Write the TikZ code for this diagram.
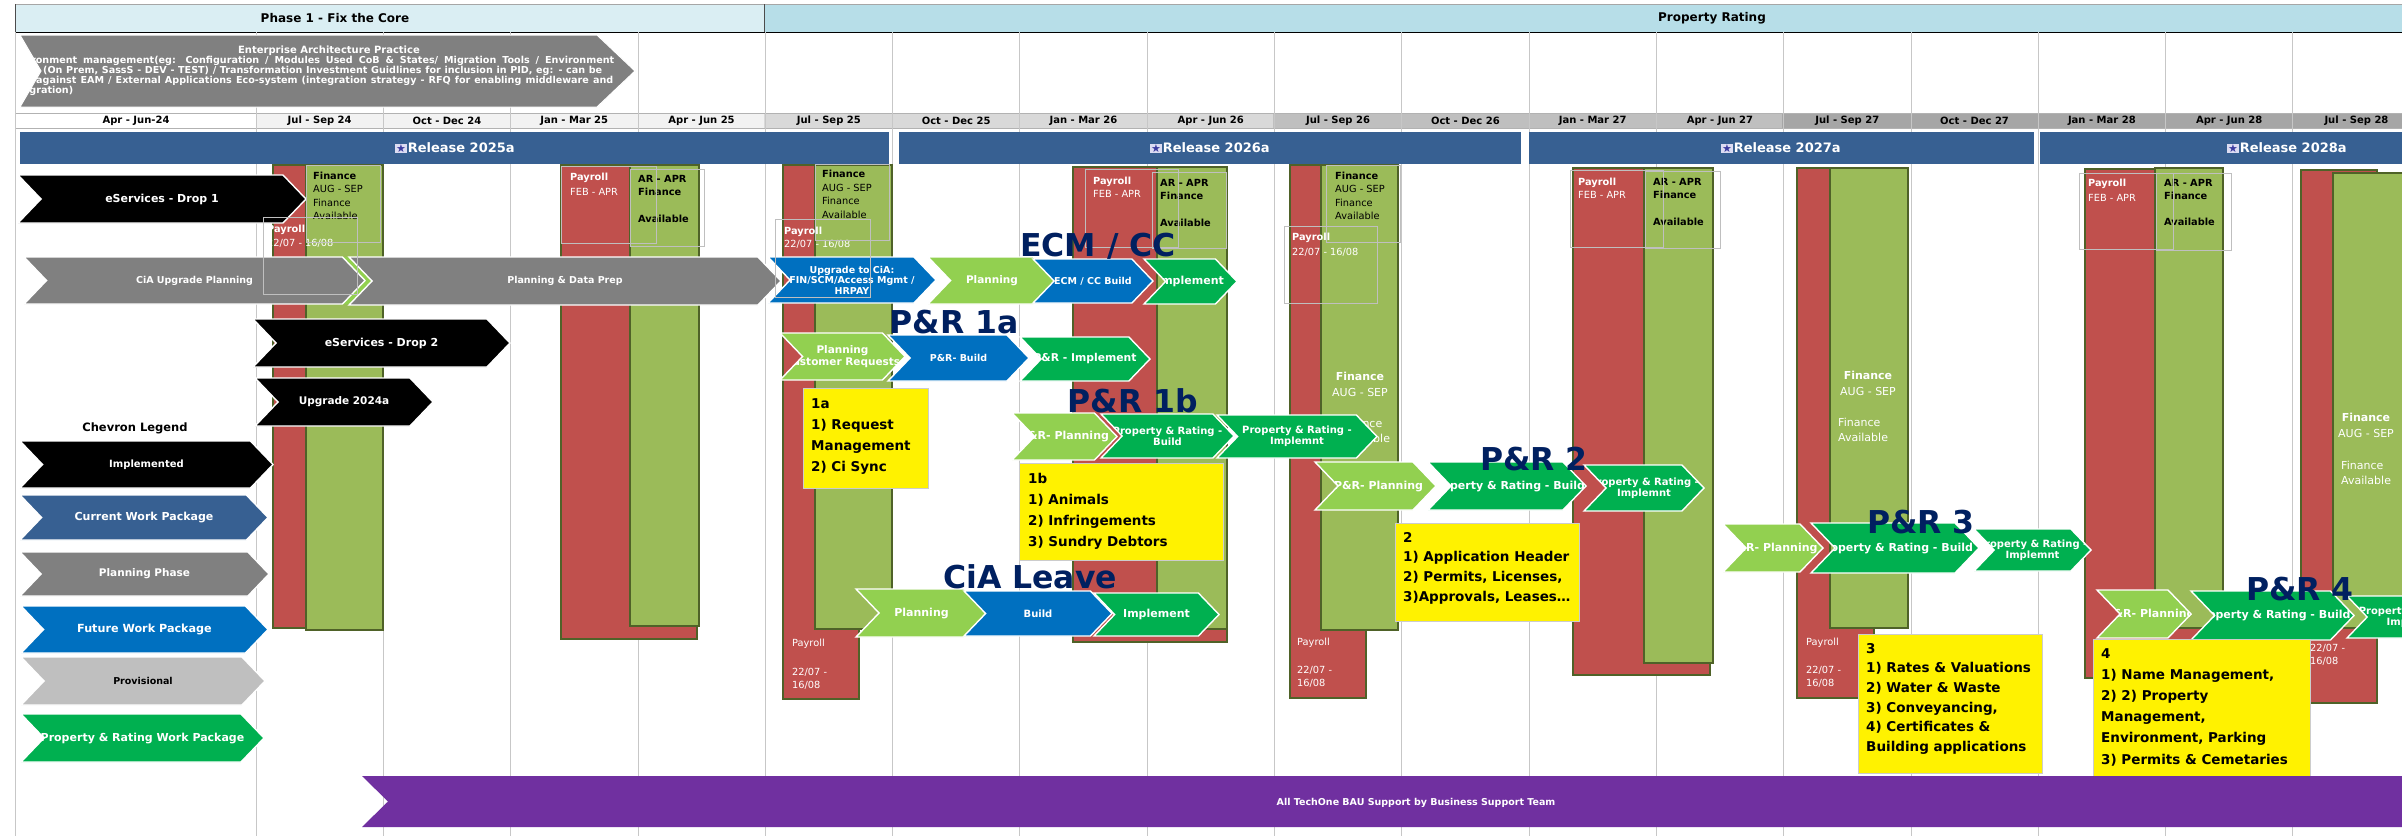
\documentclass[tikz,border=0pt]{standalone}
\usepackage{fontspec}
\setmainfont{DejaVu Sans}
\usepackage{xcolor}
\usepackage{tikz}
\usetikzlibrary{calc}

\definecolor{relblue}{HTML}{376092}
\definecolor{futblue}{HTML}{0070C0}
\definecolor{plangray}{HTML}{808080}
\definecolor{provgray}{HTML}{BFBFBF}
\definecolor{prgreen}{HTML}{00B050}
\definecolor{ltgreen}{HTML}{92D050}
\definecolor{payred}{HTML}{C0504D}
\definecolor{fingreen}{HTML}{9BBB59}
\definecolor{baredge}{HTML}{4F6228}
\definecolor{navylbl}{HTML}{002060}
\definecolor{bauviolet}{HTML}{7030A0}
\definecolor{phaseblue}{HTML}{DAEEF3}
\definecolor{ratingblue}{HTML}{B7DEE8}
\definecolor{datelt}{HTML}{F2F2F2}
\definecolor{datemd}{HTML}{D9D9D9}
\definecolor{datedk}{HTML}{BFBFBF}
\definecolor{datexd}{HTML}{A6A6A6}
\definecolor{starbg}{HTML}{DCDCF2}
\definecolor{starblue}{HTML}{3C3CA0}

% chevron: fill, name, left x, tip x, top y, bottom y, text options, text
\newcommand{\chevshape}[8]{%
  \path[fill=#1, draw=white, line width=1.4pt]
    (#3,#5) -- ({#4-0.48*(#6-#5)},#5) -- (#4,{(#5+#6)/2}) -- ({#4-0.48*(#6-#5)},#6)
    -- (#3,#6) -- ({#3+0.48*(#6-#5)},{(#5+#6)/2}) -- cycle;
  \begin{scope}
    \clip (#3,#5) -- ({#4-0.48*(#6-#5)},#5) -- (#4,{(#5+#6)/2}) -- ({#4-0.48*(#6-#5)},#6)
      -- (#3,#6) -- ({#3+0.48*(#6-#5)},{(#5+#6)/2}) -- cycle;
    \node[chevtext, #7] (#2) at ({(#3+#4)/2},{(#5+#6)/2}) {#8};
  \end{scope}}
\newcommand{\relstar}{{\setlength{\fboxsep}{0.8pt}\colorbox{starbg}{\textcolor{starblue}{\fontsize{11}{11}\selectfont ★}}}\hspace{1pt}}

\begin{document}
\begin{tikzpicture}[x=1pt, y=-1pt,
  gridline/.style={draw=black!22, line width=0.8pt},
  fs/.style 2 args={font=\fontsize{#1}{#2}\selectfont\bfseries},
  chevtext/.style={text=white, align=center, inner sep=0pt},
  entline/.style={text=white, anchor=west, inner sep=0pt, font=\fontsize{9.6}{9.6}\selectfont\bfseries},
  datetxt/.style={font=\fontsize{10}{10}\selectfont\bfseries, inner sep=0pt},
  reltext/.style={text=white, font=\fontsize{13}{13}\selectfont\bfseries, inner sep=0pt},
  barpay/.style={fill=payred, draw=baredge, line width=1.6pt},
  barfin/.style={fill=fingreen, draw=baredge, line width=1.6pt},
  bartxt/.style={inner sep=0pt, align=left, anchor=north west, font=\fontsize{9.8}{#1}\selectfont},
  bartxtb/.style={bartxt=#1, font=\fontsize{9.8}{#1}\selectfont\bfseries},
  midtxt/.style={text=white, inner sep=0pt, align=center, anchor=north, font=\fontsize{11}{16}\selectfont},
  avltxt/.style={text=white, inner sep=0pt, align=left, anchor=north west, font=\fontsize{11}{15}\selectfont},
  tbox/.style={draw=black!25, line width=0.8pt},
  ybox/.style={fill=yellow, draw=black!20, line width=0.8pt},
  ytext/.style={font=\fontsize{13.5}{#1}\selectfont\bfseries, align=left, anchor=north west, inner sep=0pt},
  bigtag/.style={text=navylbl, font=\fontsize{31.5}{31.5}\selectfont\bfseries, inner sep=0pt, anchor=base}]

\useasboundingbox (0,0) rectangle (2402,836);
\clip (0,0) rectangle (2402,836);
\fill[white] (0,0) rectangle (2402,836);

% header row
\fill[phaseblue] (15,4) rectangle (764,32);
\fill[ratingblue] (764,4) rectangle (2402,32);
\draw[black!35] (15,4) -- (2402,4);
\draw[black!70] (15,4) -- (15,32);
\draw[black!70] (764,4) -- (764,32);
\draw[black, line width=1pt] (15,32) -- (2402,32);
\node[fs={12}{12}, inner sep=0pt] (phase1) at (335,18) {Phase 1 - Fix the Core};
\node[fs={12}{12}, inner sep=0pt] (proprate) at (1712,18) {Property Rating};

% quarter row
\fill[datelt] (256,113) rectangle (764,128);
\fill[datemd] (764,113) rectangle (1273,128);
\fill[datedk] (1273,113) rectangle (1782,128);
\fill[datexd] (1782,113) rectangle (2402,128);
\draw[black!30] (15,113) -- (2402,113);
\draw[black!30] (15,128) -- (2402,128);
\node[datetxt] (qfirst) at (136,120.5) {Apr - Jun-24};
\foreach \lbl [count=\i from 0] in {Jul - Sep 24, Oct - Dec 24, Jan - Mar 25, Apr - Jun 25,
    Jul - Sep 25, Oct - Dec 25, Jan - Mar 26, Apr - Jun 26, Jul - Sep 26, Oct - Dec 26,
    Jan - Mar 27, Apr - Jun 27, Jul - Sep 27, Oct - Dec 27, Jan - Mar 28, Apr - Jun 28, Jul - Sep 28}
  \node[datetxt] (q\i) at ({319.65+127.3*\i},120.5) {\lbl};

% grid
\draw[gridline] (15,32) -- (15,836);
\foreach \i in {0,...,16}
  \draw[gridline] ({256+127.3*\i},32) -- ({256+127.3*\i},836);

% enterprise architecture chevron
\path[fill=plangray, draw=white, line width=1pt] (20,35) -- (597,35) -- (635,71) -- (597,107) -- (20,107) -- (41,71) -- cycle;
\begin{scope}
  \clip (20,35) -- (597,35) -- (635,71) -- (597,107) -- (20,107) -- (41,71) -- cycle;
  \node[chevtext, fs={10}{10}] (eatitle) at (329,51) {Enterprise Architecture Practice};
  \node[entline] (ea1) at (8,61) {\makebox[606pt][s]{Environment management(eg: Configuration / Modules Used CoB \& States/ Migration Tools / Environment}};
  \node[entline] (ea2) at (43,71) {\makebox[559pt][s]{(On Prem, SassS - DEV - TEST) / Transformation Investment Guidlines for inclusion in PID, eg: - can be}};
  \node[entline] (ea3) at (6,81) {\makebox[607pt][s]{used against EAM / External Applications Eco-system (integration strategy - RFQ for enabling middleware and}};
  \node[entline] (ea4) at (8,91) {integration)};
\end{scope}

% releases
\fill[relblue] (20,132) rectangle (889,164);
\fill[relblue] (899,132) rectangle (1521,164);
\fill[relblue] (1529,132) rectangle (2034,164);
\fill[relblue] (2040,132) rectangle (2402,164);
\node[reltext] (rel25) at (455,148) {\relstar Release 2025a};
\node[reltext] (rel26) at (1210,148) {\relstar Release 2026a};
\node[reltext] (rel27) at (1781,148) {\relstar Release 2027a};
\node[reltext] (rel28) at (2287,148) {\relstar Release 2028a};

% payroll / finance windows
\draw[barpay] (273,165) rectangle (306,628);
\draw[barfin] (306,165) rectangle (383,630);
\draw[barpay] (561,165) rectangle (697,639);
\draw[barfin] (630,165) rectangle (699,626);
\draw[barpay] (783,165) rectangle (859,699);
\draw[barfin] (815,165) rectangle (892,629);
\draw[barpay] (1073,167) rectangle (1227,642);
\draw[barfin] (1157,167) rectangle (1227,629);
\draw[barpay] (1290,165) rectangle (1366,698);
\draw[barfin] (1321,165) rectangle (1398,630);
\draw[barpay] (1573,168) rectangle (1710,675);
\draw[barfin] (1644,168) rectangle (1713,663);
\draw[barpay] (1797,168) rectangle (1874,698);
\draw[barfin] (1830,168) rectangle (1908,628);
\draw[barpay] (2085,169) rectangle (2222,678);
\draw[barfin] (2155,168) rectangle (2223,628);
\draw[barpay] (2301,170) rectangle (2377,703);
\draw[barfin] (2333,173) rectangle (2420,628);

\node[bartxt=13.3] (g1fin) at (313,172) {\textbf{Finance}\\AUG - SEP\\Finance\\Available};
\node[bartxt=14, text=white] (g1pay) at (267,225) {\textbf{Payroll}\\22/07 - 16/08};
\node[bartxt=15, text=white] (g2pay) at (570,173) {\textbf{Payroll}\\FEB - APR};
\node[bartxtb=13.3] (g2ar) at (638,175) {AR - APR\\Finance\\[13.3pt]Available};
\node[bartxt=13.5] (g3fin) at (822,170) {\textbf{Finance}\\AUG - SEP\\Finance\\Available};
\node[bartxt=13, text=white] (g3pay) at (784,227) {\textbf{Payroll}\\22/07 - 16/08};
\node[bartxt=13.5, text=white] (g3low) at (792,639) {Payroll\\[15pt]22/07 -\\16/08};
\node[bartxt=13, text=white] (g4pay) at (1093,177) {\textbf{Payroll}\\FEB - APR};
\node[bartxtb=13.3] (g4ar) at (1160,179) {AR - APR\\Finance\\[13.3pt]Available};
\node[bartxt=13.3] (g5fin) at (1335,172) {\textbf{Finance}\\AUG - SEP\\Finance\\Available};
\node[bartxt=15, text=white] (g5pay) at (1292,233) {\textbf{Payroll}\\22/07 - 16/08};
\node[midtxt] (g5mid) at (1360,372) {\textbf{Finance}\\AUG - SEP};
\node[avltxt] (g5avl) at (1340,419) {Finance\\Available};
\node[bartxt=13.5, text=white] (g5low) at (1297,638) {Payroll\\[14pt]22/07 -\\16/08};
\node[bartxt=13, text=white] (g6pay) at (1578,178) {\textbf{Payroll}\\FEB - APR};
\node[bartxtb=13.3] (g6ar) at (1653,178) {AR - APR\\Finance\\[13.3pt]Available};
\node[midtxt] (g7mid) at (1868,371) {\textbf{Finance}\\AUG - SEP};
\node[avltxt] (g7avl) at (1838,418) {Finance\\Available};
\node[bartxt=13.5, text=white] (g7low) at (1806,638) {Payroll\\[14pt]22/07 -\\16/08};
\node[bartxt=15, text=white] (g8pay) at (2088,179) {\textbf{Payroll}\\FEB - APR};
\node[bartxtb=13] (g8ar) at (2164,179) {AR - APR\\Finance\\[13pt]Available};
\node[midtxt] (g9mid) at (2366,413) {\textbf{Finance}\\AUG - SEP};
\node[avltxt] (g9avl) at (2341,461) {Finance\\Available};
\node[bartxt=13, text=white] (g9low) at (2310,644) {22/07 -\\16/08};

% implemented
\chevshape{black}{drop1}{18}{306}{175}{223}{fs={11}{11}}{eServices - Drop 1}
\chevshape{black}{drop2}{253}{510}{319}{367}{fs={11}{11}}{eServices - Drop 2}
\chevshape{black}{up24}{255}{433}{378}{426}{fs={10.5}{10.5}}{Upgrade 2024a}

% CiA upgrade
\path[fill=ltgreen] (300,257) -- (354,257) -- (377,280.5) -- (354,304) -- (300,304) -- cycle;
\chevshape{plangray}{ciaplan}{24}{365}{257}{304}{fs={9.5}{10}}{CiA Upgrade Planning}
\chevshape{futblue}{upcia}{768}{936}{257}{303}{fs={9.5}{10.5}}{Upgrade to CiA:\\FIN/SCM/Access Mgmt /\\HRPAY}
\chevshape{plangray}{pdp}{349}{781}{257}{305}{fs={9.5}{10}}{Planning \& Data Prep}

% ECM / CC
\chevshape{ltgreen}{ecmplan}{928}{1056}{257}{304}{fs={10.5}{11}}{Planning}
\chevshape{futblue}{ecmbuild}{1033}{1153}{259}{303}{fs={9.5}{10}}{ECM / CC Build}
\chevshape{prgreen}{ecmimpl}{1144}{1237}{259}{304}{fs={11}{11}}{Implement}

% P&R 1a
\chevshape{ltgreen}{p1aplan}{780}{905}{333}{380}{fs={10.5}{11.5}}{Planning\\Customer Requests}
\chevshape{futblue}{p1abuild}{888}{1029}{335}{381}{fs={9.5}{10}}{P\&R- Build}
\chevshape{prgreen}{p1aimpl}{1020}{1150}{337}{381}{fs={10.8}{11}}{P\&R - Implement}

% P&R 1b
\chevshape{ltgreen}{p1bplan}{1012}{1117}{413}{460}{fs={11}{11}}{P\&R- Planning}
\chevshape{prgreen}{p1bbuild}{1101}{1234}{414}{458}{fs={10}{11}}{Property \& Rating -\\Build}
\chevshape{prgreen}{p1bimpl}{1217}{1377}{415}{458}{fs={10}{11}}{Property \& Rating -\\Implemnt}

% CiA Leave
\chevshape{ltgreen}{lvplan}{856}{987}{589}{637}{fs={11}{11}}{Planning}
\chevshape{futblue}{lvbuild}{964}{1112}{591}{636}{fs={10}{10}}{Build}
\chevshape{prgreen}{lvimpl}{1094}{1219}{593}{636}{fs={11}{11}}{Implement}

% P&R 2
\chevshape{ltgreen}{p2plan}{1315}{1436}{462}{510}{fs={11}{11}, xshift=3pt}{P\&R- Planning}
\chevshape{prgreen}{p2build}{1428}{1586}{462}{510}{fs={11}{11}}{Property \& Rating - Build}
\chevshape{prgreen}{p2impl}{1584}{1704}{465}{511}{fs={10}{10.5}}{Property \& Rating -\\Implemnt}

% P&R 3
\chevshape{ltgreen}{p3plan}{1723}{1823}{524}{572}{fs={11}{11}}{P\&R- Planning}
\chevshape{prgreen}{p3build}{1811}{1979}{523}{573}{fs={11}{11}}{Property \& Rating - Build}
\chevshape{prgreen}{p3impl}{1974}{2091}{529}{571}{fs={10}{10.5}}{Property \& Rating -\\Implemnt}

% P&R 4
\chevshape{ltgreen}{p4plan}{2097}{2191}{590}{638}{fs={11}{11}, xshift=6pt}{P\&R- Planning}
\chevshape{prgreen}{p4build}{2191}{2354}{591}{640}{fs={11}{11}}{Property \& Rating - Build}
\chevshape{prgreen}{p4impl}{2347}{2480}{596}{638}{fs={10}{10.5}}{Property \& Rating -\\Implemnt}

% legend
\node[fs={11.5}{11.5}, inner sep=0pt] (legtitle) at (135,428) {Chevron Legend};
\chevshape{black}{legimpl}{20}{273}{441}{488}{fs={10}{10}}{Implemented}
\chevshape{relblue}{legcur}{20}{268}{495}{540}{fs={11}{11}}{Current Work Package}
\chevshape{plangray}{legplan}{20}{269}{552}{596}{fs={10.5}{10.5}}{Planning Phase}
\chevshape{futblue}{legfut}{21}{268}{606}{653}{fs={11.2}{11.2}}{Future Work Package}
\chevshape{provgray}{legprov}{21}{265}{657}{705}{fs={9.5}{10}, text=black}{Provisional}
\chevshape{prgreen}{legpr}{21}{264}{714}{762}{fs={11}{11}}{Property \& Rating Work Package}

% text box outlines
\foreach \xa/\ya/\xb/\yb in {263/217/357/294, 306/165/380/242, 561/166/656/243, 630/169/704/246,
    775/219/870/297, 815/164/889/240, 1085/169/1178/247, 1152/172/1226/248,
    1284/226/1377/303, 1326/165/1400/242, 1570/170/1663/247, 1645/171/1720/248,
    2079/173/2173/249, 2156/173/2231/250}
  \draw[tbox] (\xa,\ya) rectangle (\xb,\yb);

% stream labels
\node[bigtag] (ecmtag) at (1098,256) {ECM / CC};
\node[bigtag] (p1atag) at (954,333) {P\&R 1a};
\node[bigtag] (p1btag) at (1133,412) {P\&R 1b};
\node[bigtag] (ciatag) at (1030,588) {CiA Leave};
\node[bigtag] (p2tag) at (1534,470) {P\&R 2};
\node[bigtag] (p3tag) at (1921,533) {P\&R 3};
\node[bigtag] (p4tag) at (2300,600) {P\&R 4};

% scope notes
\draw[ybox] (803,388) rectangle (928,488);
\node[ytext=21] (n1a) at (811,398) {1a\\1) Request\\Management\\2) Ci Sync};
\draw[ybox] (1019,463) rectangle (1223,560);
\node[ytext=21] (n1b) at (1028,473) {1b\\1) Animals\\2) Infringements\\3) Sundry Debtors};
\draw[ybox] (1395,523) rectangle (1579,621);
\node[ytext=19.7] (n2) at (1403,532) {2\\1) Application Header\\2) Permits, Licenses,\\3)Approvals, Leases…};
\draw[ybox] (1858,634) rectangle (2042,773);
\node[ytext=19.6] (n3) at (1866,643) {3\\1) Rates \& Valuations\\2) Water \& Waste\\3) Conveyancing,\\4) Certificates \&\\Building applications};
\draw[ybox] (2093,639) rectangle (2310,790);
\node[ytext=21.2] (n4) at (2101,648) {4\\1) Name Management,\\2) 2) Property\\Management,\\Environment, Parking\\3) Permits \& Cemetaries};

% BAU support
\path[fill=bauviolet] (362,776) -- (2410,776) -- (2410,827) -- (362,827) -- (388,801.5) -- cycle;
\node[chevtext, fs={9.5}{9.5}] (bau) at (1416,803) {All TechOne BAU Support by Business Support Team};
\end{tikzpicture}
\end{document}
